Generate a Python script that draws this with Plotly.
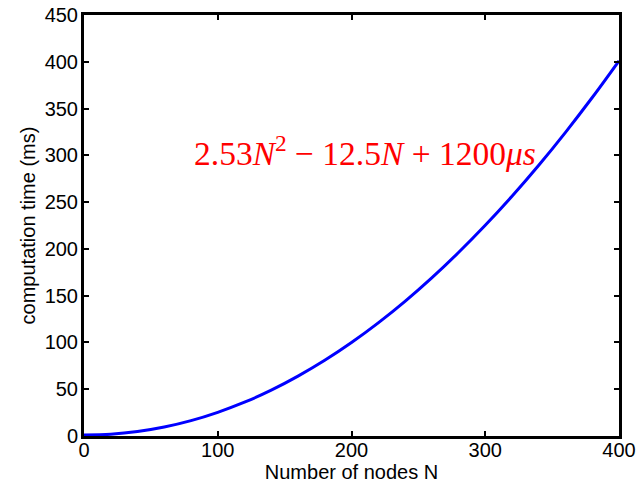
import plotly.graph_objects as go

# Number of nodes N
nodes = [0, 20, 40, 60, 80, 100, 120, 140, 160, 180, 200, 220, 240, 260, 280, 300, 320, 340, 360, 380, 400]
# computation time (ms)
comp_time = [1.2, 1.96, 4.75, 9.56, 16.4, 25.3, 36.1, 49.0, 64.0, 80.9, 99.9, 120.9, 143.9, 169.0, 196.1, 225.2, 256.3, 289.4, 324.6, 361.8, 401.0]

x_ticks = [0, 100, 200, 300, 400]
y_ticks = [0, 50, 100, 150, 200, 250, 300, 350, 400, 450]

FONT = "Liberation Sans, Arial"

fig = go.Figure()
fig.add_trace(go.Scatter(x=nodes, y=comp_time, mode="lines",
                         line=dict(color="#0000ff", width=3, shape="spline"),
                         showlegend=False, hoverinfo="skip"))

axis_common = dict(showline=True, linecolor="black", linewidth=3, mirror="ticks",
                   ticks="inside", ticklen=5, tickwidth=2, tickcolor="black",
                   showgrid=False, zeroline=False, automargin=False,
                   tickfont=dict(family=FONT, size=20, color="black"))

fig.update_xaxes(range=[0, 400], tickvals=x_ticks, ticklabelstandoff=-6,
                 title=dict(text="Number of nodes N", standoff=3,
                            font=dict(family=FONT, size=20, color="black")),
                 **axis_common)
fig.update_yaxes(range=[0, 450], tickvals=y_ticks, ticklabelstandoff=-1,
                 title=dict(text="computation time (ms)", standoff=4,
                            font=dict(family=FONT, size=20, color="black")),
                 **axis_common)

fig.add_annotation(x=0.526, y=0.678, xref="paper", yref="paper",
                   text="2.53<i>N</i><sup>2</sup> − 12.5<i>N</i> + 1200<i>μs</i>",
                   showarrow=False, xanchor="center", yanchor="middle",
                   font=dict(family="Liberation Serif, Times New Roman", size=33.5, color="#ff0000"))

fig.update_layout(width=639, height=486, plot_bgcolor="white", paper_bgcolor="white",
                  margin=dict(l=84, r=20, t=15, b=50, autoexpand=False))

fig.write_html("out.html", config={"displayModeBar": False},
               post_script="document.body.style.margin='0';")
